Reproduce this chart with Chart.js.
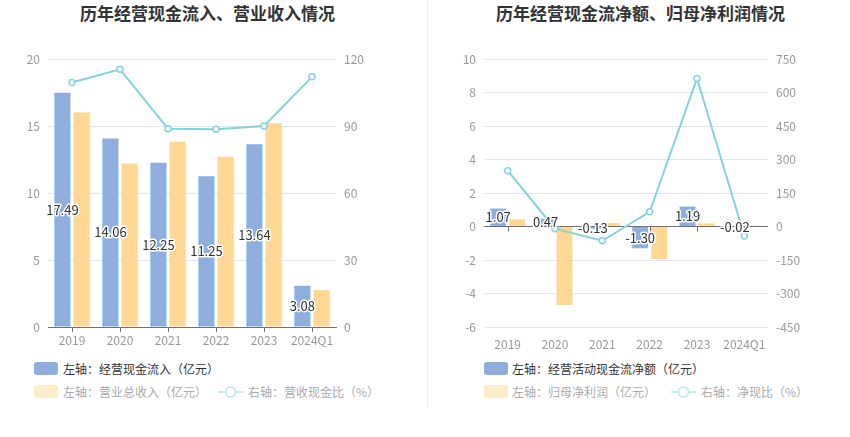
<!DOCTYPE html>
<html><head><meta charset="utf-8">
<script src="https://cdn.jsdelivr.net/npm/chart.js@4"></script>
<style>
body{margin:0;width:850px;height:437px;background:#fff;position:relative;overflow:hidden;font-family:"Noto Sans CJK SC","Noto Sans",sans-serif}
.title{position:absolute;top:1px;font-size:17px;font-weight:bold;color:#333;text-align:center;width:425px;line-height:24px}
.wrap{position:absolute;top:0;width:425px;height:360px}
.divider{position:absolute;left:427px;top:0;width:1px;height:407px;background:#eee}
.box{position:absolute;width:24px;height:13px;border-radius:3px}
.lt{position:absolute;font-size:12px;line-height:16px;white-space:nowrap}
svg{position:absolute}
</style></head>
<body>
<div class="title" style="left:-5px">历年经营现金流入、营业收入情况</div>
<div class="title" style="left:428px">历年经营现金流净额、归母净利润情况</div>
<div class="divider"></div>
<div class="wrap" style="left:0"><canvas id="c1"></canvas></div>
<div class="wrap" style="left:425px"><canvas id="c2"></canvas></div>

<div class="box" style="left:34px;top:362px;background:#8eaedc"></div>
<div class="lt" style="left:63px;top:361px;color:#333">左轴：经营现金流入（亿元）</div>
<div class="box" style="left:34px;top:385px;background:#fdecc9"></div>
<div class="lt" style="left:63px;top:384px;color:#aaa">左轴：营业总收入（亿元）</div>
<svg style="left:218px;top:385px" width="25" height="14"><line x1="0" y1="7" x2="25" y2="7" stroke="#c4ebee" stroke-width="2"/><circle cx="12.5" cy="7" r="5" fill="#fff" stroke="#c4ebee" stroke-width="2"/></svg>
<div class="lt" style="left:248px;top:384px;color:#aaa">右轴：营收现金比（%）</div>

<div class="box" style="left:484px;top:362px;background:#8eaedc"></div>
<div class="lt" style="left:512px;top:361px;color:#333">左轴：经营活动现金流净额（亿元）</div>
<div class="box" style="left:484px;top:385px;background:#fdecc9"></div>
<div class="lt" style="left:512px;top:384px;color:#aaa">左轴：归母净利润（亿元）</div>
<svg style="left:671px;top:385px" width="25" height="14"><line x1="0" y1="7" x2="25" y2="7" stroke="#c4ebee" stroke-width="2"/><circle cx="12.5" cy="7" r="5" fill="#fff" stroke="#c4ebee" stroke-width="2"/></svg>
<div class="lt" style="left:701px;top:384px;color:#aaa">右轴：净现比（%）</div>

<script>
const categories = ['2019','2020','2021','2022','2023','2024Q1'];
// Left chart
const cashInflow = [17.49, 14.06, 12.25, 11.25, 13.64, 3.08];
const revenue = [16.0, 12.2, 13.83, 12.71, 15.2, 2.76];
const cashRevenueRatio = [109.5, 115.4, 88.8, 88.6, 90.0, 112.0];
const leftTicksL = [0, 20, 5];
const leftTicksR = [0, 120, 30];
// Right chart
const netCashFlow = [1.07, 0.47, -0.13, -1.30, 1.19, -0.02];
const netProfit = [0.43, -4.69, 0.21, -1.94, 0.18, 0.05];
const netCashRatio = [250, -10, -64, 66, 663, -42];
const rightTicksL = [-6, 10, 2];
const rightTicksR = [-450, 750, 150];

const FONT = '"Noto Sans CJK SC","Noto Sans",sans-serif';
const BLUE = '#8eaedc', ORANGE = '#ffd795', TEAL = '#82d4d8', AXIS = '#6e7079', GRID = '#e0e6f1', TICK = '#999';

const labelPlugin = {
  id: 'vlabels',
  afterDatasetsDraw(chart) {
    const meta = chart.getDatasetMeta(0);
    const ds = chart.data.datasets[0].data;
    const ctx = chart.ctx;
    ctx.save();
    ctx.font = '13px ' + FONT;
    ctx.textAlign = 'center';
    ctx.textBaseline = 'middle';
    ctx.lineWidth = 3;
    ctx.lineJoin = 'round';
    ctx.strokeStyle = '#fff';
    ctx.fillStyle = '#333';
    meta.data.forEach((el, i) => {
      const t = ds[i].toFixed(2);
      const y = (el.y + el.base) / 2;
      ctx.strokeText(t, el.x, y);
      ctx.fillText(t, el.x, y);
    });
    ctx.restore();
  }
};

const zeroTickPlugin = {
  id: 'zeroticks',
  beforeDatasetsDraw(chart) {
    const xs = chart.scales.x, ys = chart.scales.y;
    const y0 = ys.getPixelForValue(0);
    const ctx = chart.ctx;
    ctx.save();
    ctx.strokeStyle = AXIS;
    ctx.lineWidth = 1;
    categories.forEach((c, i) => {
      const x = Math.round(xs.getPixelForValue(i)) + 0.5;
      ctx.beginPath();
      ctx.moveTo(x, y0);
      ctx.lineTo(x, y0 + 5);
      ctx.stroke();
    });
    ctx.restore();
  }
};

function fixW(w) { return function(scale) { scale.width = w; }; }
function fixH(h) { return function(scale) { scale.height = h; }; }

function makeChart(id, barA, barB, line, tl, tr, leftW, rightW, isRight) {
  const datasets = [
    { type: 'bar', data: barA, backgroundColor: BLUE, yAxisID: 'y', order: 2, categoryPercentage: 0.8, barPercentage: 0.84 },
    { type: 'bar', data: barB, backgroundColor: ORANGE, yAxisID: 'y', order: 2, categoryPercentage: 0.8, barPercentage: 0.84 },
    { type: 'line', data: line, borderColor: TEAL, borderWidth: 2, pointRadius: 3, pointBorderWidth: 1.5,
      pointBackgroundColor: '#fff', pointBorderColor: TEAL, yAxisID: 'y1', order: 0, tension: 0 }
  ];
  return new Chart(document.getElementById(id), {
    data: { labels: categories, datasets },
    options: {
      responsive: true, maintainAspectRatio: false, animation: false,
      layout: { padding: { top: 59, bottom: 0, left: 0, right: 0 } },
      plugins: { legend: { display: false }, tooltip: { enabled: false } },
      scales: {
        x: {
          afterFit: fixH(33),
          border: { display: !isRight, color: AXIS },
          grid: { display: !isRight, offset: false, drawOnChartArea: false, drawTicks: true, tickLength: 5, tickColor: AXIS },
          ticks: { color: TICK, font: { size: 12, family: FONT }, padding: isRight ? 5 : 1, maxRotation: 0, autoSkip: false }
        },
        y: {
          position: 'left', min: tl[0], max: tl[1],
          afterFit: fixW(leftW),
          border: { display: false },
          grid: { color: ctx => (ctx.tick && ctx.tick.value === 0 && isRight) ? AXIS : GRID, drawTicks: false },
          ticks: { stepSize: tl[2], color: TICK, font: { size: 12, family: FONT }, padding: 8 }
        },
        y1: {
          position: 'right', min: tr[0], max: tr[1],
          afterFit: fixW(rightW),
          border: { display: false },
          grid: { display: false, drawTicks: false },
          ticks: { stepSize: tr[2], color: TICK, font: { size: 12, family: FONT }, padding: 8 }
        }
      }
    },
    plugins: isRight ? [zeroTickPlugin, labelPlugin] : [labelPlugin]
  });
}

makeChart('c1', cashInflow, revenue, cashRevenueRatio, leftTicksL, leftTicksR, 48, 89, false);
makeChart('c2', netCashFlow, netProfit, netCashRatio, rightTicksL, rightTicksR, 59, 82, true);
</script>
</body></html>
